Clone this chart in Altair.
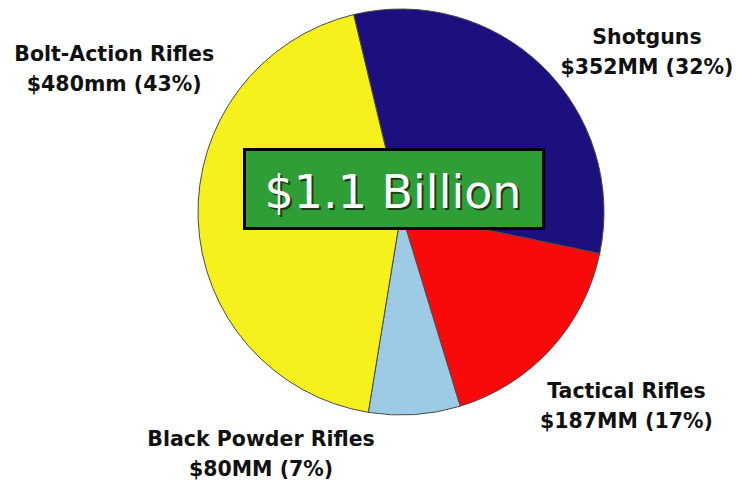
import math
import altair as alt
import pandas as pd

categories = ["Shotguns", "Tactical Rifles", "Black Powder Rifles", "Bolt-Action Rifles"]
values = [352, 187, 80, 480]
value_labels = ["$352MM (32%)", "$187MM (17%)", "$80MM (7%)", "$480mm (43%)"]
colors = ["#1C0F7E", "#F80A0A", "#9DCAE5", "#F6F01C"]
total_label = "$1.1 Billion"

df = pd.DataFrame({
    "cat": categories,
    "value": values,
    "idx": list(range(len(categories))),
    "label": [c + "\n" + v for c, v in zip(categories, value_labels)],
})

start = math.radians(-13.5)
theta_enc = alt.Theta("value:Q", stack=True,
                      scale=alt.Scale(range=[start, start + 2 * math.pi]))
base = alt.Chart(df).encode(theta=theta_enc, order=alt.Order("idx:Q"))

pie = base.mark_arc(radius=203, stroke="#4a4a4a", strokeWidth=1).encode(
    color=alt.Color("cat:N", scale=alt.Scale(domain=categories, range=colors), legend=None)
)

offsets = {
    "Shotguns": (37, 41),
    "Tactical Rifles": (4, -22),
    "Black Powder Rifles": (-160, -71),
    "Bolt-Action Rifles": (13, -168),
}
label_layers = []
for c in categories:
    dx, dy = offsets[c]
    label_layers.append(
        base.mark_text(radius=300, dx=dx, dy=dy, lineBreak="\n", font="DejaVu Sans",
                       fontWeight="bold", fontSize=20.5, lineHeight=30, align="center",
                       baseline="middle", color="#111111").encode(
            text=alt.condition(f"datum.cat == '{c}'", alt.Text("label:N"), alt.value(""))
        )
    )

one = alt.Data(values=[{"t": total_label}])
box = alt.Chart(one).mark_rect(fill="#2F9E36", stroke="#000000", strokeWidth=3).encode(
    x=alt.value(179.5), x2=alt.value(478.5), y=alt.value(149.5), y2=alt.value(228.5)
)
shadow = alt.Chart(one).mark_text(font="DejaVu Sans", fontSize=46, align="center",
                                  baseline="alphabetic", color="#1a3a1a", dx=2, dy=2).encode(
    x=alt.value(328), y=alt.value(208), text="t:N"
)
big = alt.Chart(one).mark_text(font="DejaVu Sans", fontSize=46, align="center",
                               baseline="alphabetic", color="#FFFFFF").encode(
    x=alt.value(328), y=alt.value(208), text="t:N"
)

chart = alt.layer(pie, box, shadow, big, *label_layers).properties(
    width=672, height=424,
    padding={"left": 65, "top": 0, "right": 0, "bottom": 60},
    autosize=alt.AutoSizeParams(type="none"),
    background="#FFFFFF",
).configure_view(strokeWidth=0)

chart.save("out.html", embed_options={"renderer": "svg", "actions": False})
